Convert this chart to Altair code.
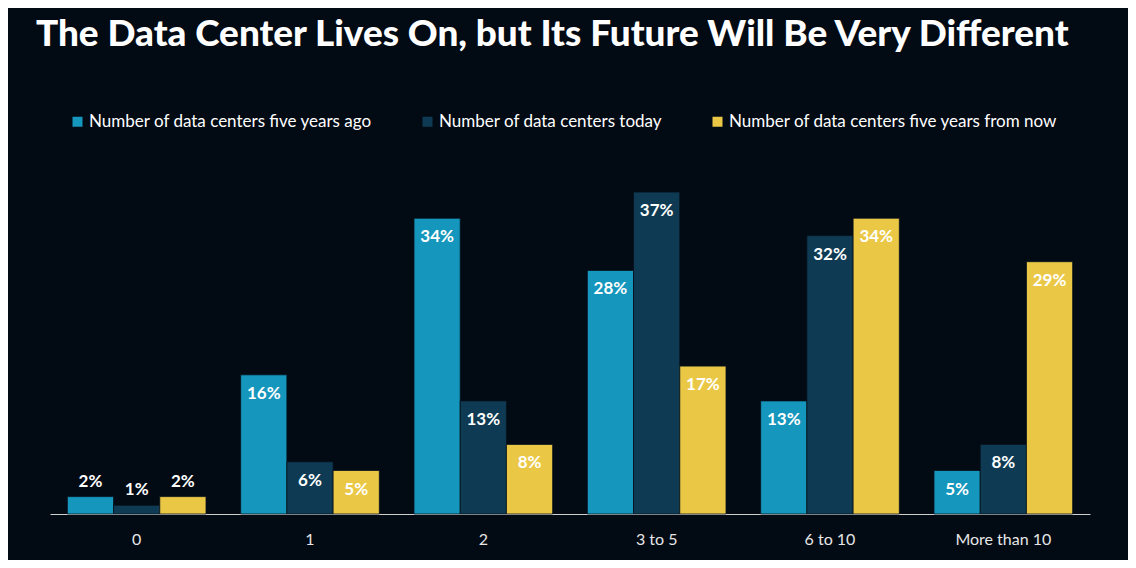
import altair as alt
import pandas as pd

categories = ["0", "1", "2", "3 to 5", "6 to 10", "More than 10"]
series_names = [
    "Number of data centers five years ago",
    "Number of data centers today",
    "Number of data centers five years from now",
]
five_years_ago = [2, 16, 34, 28, 13, 5]
today = [1, 6, 13, 37, 32, 8]
five_years_from_now = [2, 5, 8, 17, 34, 29]
colors = ["#1596bc", "#0e3b53", "#eac846"]

rows = []
for name, vals in zip(series_names, [five_years_ago, today, five_years_from_now]):
    for c, v in zip(categories, vals):
        rows.append({"category": c, "series": name, "value": v, "label": f"{v}%"})
df = pd.DataFrame(rows)

FONT = "Lato"

x_enc = alt.X("category:N", sort=categories,
              scale=alt.Scale(paddingInner=0.2, paddingOuter=0.1),
              axis=alt.Axis(title=None, labelAngle=0, labelFontSize=16, labelColor="#e6e6e6",
                            labelFont=FONT, domainColor="#d0d0d0", domainWidth=1.2,
                            ticks=False, labelPadding=17, grid=False))
xoff = alt.XOffset("series:N", sort=series_names, scale=alt.Scale(domain=series_names))
y_enc = alt.Y("value:Q", scale=alt.Scale(domain=[0, 40]), axis=None)

bars = alt.Chart(df).mark_bar(stroke="#06121c", strokeWidth=0.8).encode(
    x=x_enc,
    xOffset=xoff,
    y=y_enc,
    color=alt.Color("series:N", sort=series_names,
                    scale=alt.Scale(domain=series_names, range=colors),
                    legend=alt.Legend(title=None, orient="none", legendX=19, legendY=-53,
                                      direction="horizontal", symbolType="square",
                                      symbolSize=100, symbolStrokeWidth=0,
                                      labelFontSize=17, labelColor="#ffffff", labelFont=FONT,
                                      labelLimit=0, columnPadding=46, labelOffset=3)),
)

inside = alt.Chart(df).transform_filter(alt.datum.value >= 5).mark_text(
    baseline="top", dy=11, fontSize=17, fontWeight="bold", color="white", font=FONT
).encode(x=alt.X("category:N", sort=categories), xOffset=xoff, y=y_enc, text="label:N")

above = alt.Chart(df).transform_filter(alt.datum.value < 5).mark_text(
    baseline="bottom", dy=-6, fontSize=17, fontWeight="bold", color="white", font=FONT
).encode(x=alt.X("category:N", sort=categories), xOffset=xoff, y=y_enc, text="label:N")

chart = alt.layer(bars, inside, above).properties(
    width=1040, height=348,
    title=alt.Title("The Data Center Lives On, but Its Future Will Be Very Different",
                    anchor="start", fontSize=36.9, fontWeight=900, color="white", font=FONT,
                    dx=-14, offset=59),
    autosize=alt.AutoSizeParams(type="none"),
    padding={"left": 42, "top": 158, "right": 38, "bottom": 46},
).configure(background="#020a14").configure_view(stroke=None)

chart.save("out.html", embed_options={"renderer": "svg", "actions": False})
